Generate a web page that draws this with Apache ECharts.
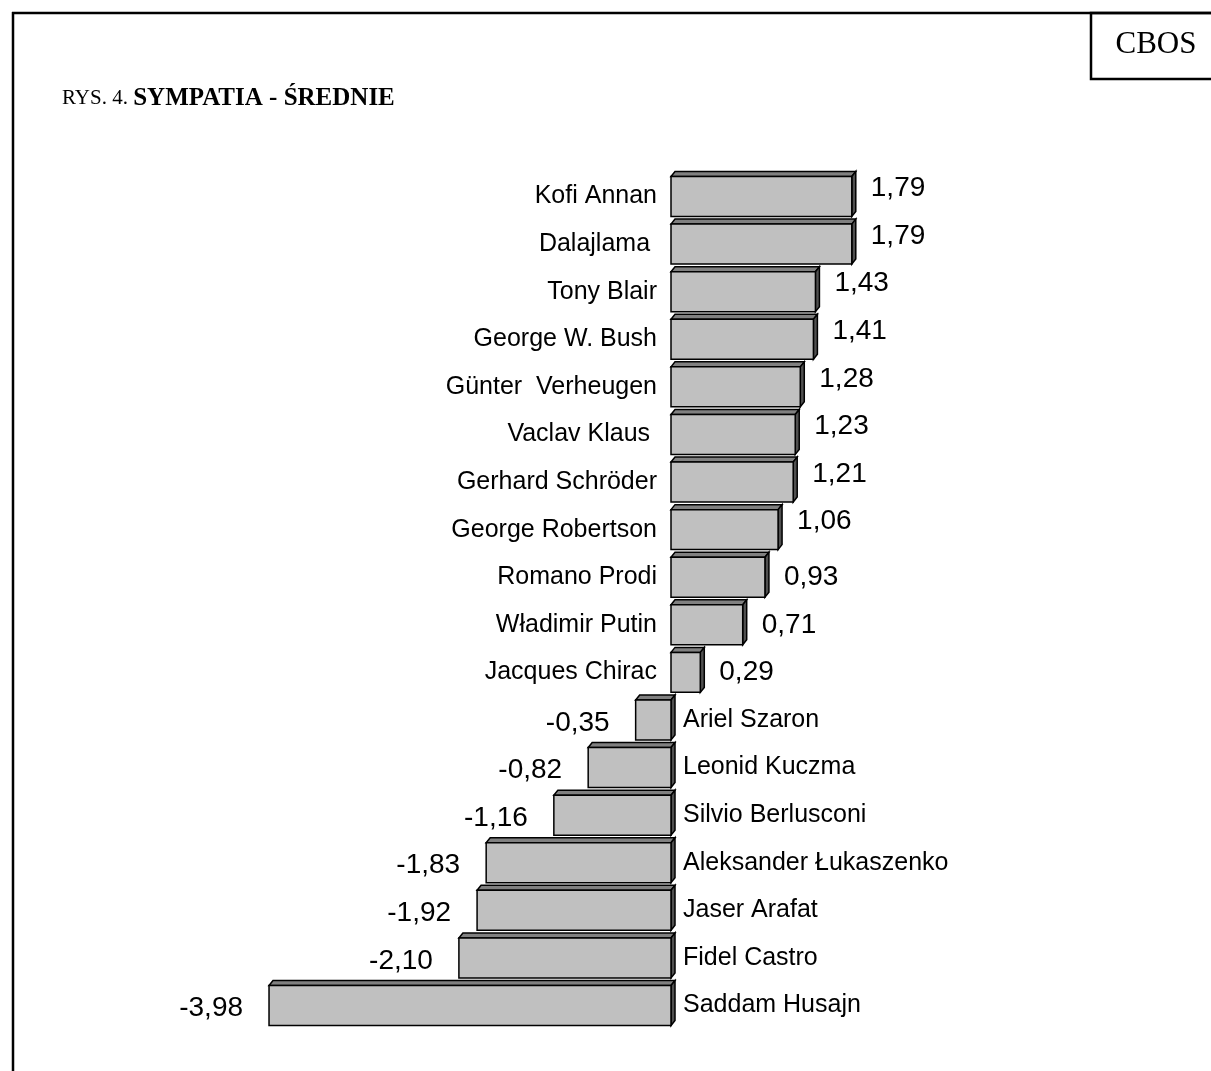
<!DOCTYPE html>
<html>
<head>
<meta charset="utf-8">
<script src="https://cdn.jsdelivr.net/npm/echarts@6/dist/echarts.min.js"></script>
<style>
  html, body { margin: 0; padding: 0; background: #fff; }
  #chart { width: 1211px; height: 1071px; }
</style>
</head>
<body>
<div id="chart"></div>
<script>
// dane z rysunku
const names = [
  'Kofi Annan', 'Dalajlama ', 'Tony Blair', 'George W. Bush', 'Günter  Verheugen',
  'Vaclav Klaus ', 'Gerhard Schröder', 'George Robertson', 'Romano Prodi',
  'Władimir Putin', 'Jacques Chirac', 'Ariel Szaron', 'Leonid Kuczma',
  'Silvio Berlusconi', 'Aleksander Łukaszenko', 'Jaser Arafat', 'Fidel Castro',
  'Saddam Husajn'
];
const values = [
  1.79, 1.79, 1.43, 1.41, 1.28, 1.23, 1.21, 1.06, 0.93, 0.71, 0.29,
  -0.35, -0.82, -1.16, -1.83, -1.92, -2.10, -3.98
];

const chart = echarts.init(document.getElementById('chart'));

const fmt = v => v.toFixed(2).replace('.', ',');

// słupek "3D": przód + góra + bok
function renderBar(params, api) {
  const v = api.value(0);
  const idx = api.value(1);
  const p0 = api.coord([0, idx]);
  const p1 = api.coord([v, idx]);
  const h = api.size([0, 1])[1] * 0.84;
  const top = p0[1] - h / 2, bot = p0[1] + h / 2;
  const l = Math.min(p0[0], p1[0]), r = Math.max(p0[0], p1[0]);
  const dx = 4, dy = 5;
  const pos = v >= 0;
  return {
    type: 'group',
    children: [
      {
        type: 'polygon',
        shape: { points: [[l, top], [l + dx, top - dy], [r + dx, top - dy], [r, top]] },
        style: { fill: '#808080', stroke: '#000', lineWidth: 1.5 }
      },
      {
        type: 'polygon',
        shape: { points: [[r, top], [r + dx, top - dy], [r + dx, bot - dy], [r, bot]] },
        style: { fill: '#505050', stroke: '#000', lineWidth: 1.5 }
      },
      {
        type: 'rect',
        shape: { x: l, y: top, width: r - l, height: h },
        style: { fill: '#c0c0c0', stroke: '#000', lineWidth: 1.5 }
      },
      {
        type: 'text',
        style: {
          text: names[params.dataIndex],
          x: pos ? p0[0] - 14 : p0[0] + 12,
          y: p0[1],
          align: pos ? 'right' : 'left',
          verticalAlign: 'middle',
          font: '25px "Liberation Sans", Arial, sans-serif',
          fill: '#000'
        }
      },
      {
        type: 'text',
        style: {
          text: fmt(v),
          x: pos ? r + 19 : l - 26,
          y: p0[1] + (pos ? (v >= 1 ? -8 : 0) : 3),
          align: pos ? 'left' : 'right',
          verticalAlign: 'middle',
          font: '28px "Liberation Sans", Arial, sans-serif',
          fill: '#000'
        }
      }
    ]
  };
}

const option = {
  animation: false,
  backgroundColor: '#fff',
  grid: { left: 267, width: 606, top: 172.7, height: 856.6 },
  xAxis: { type: 'value', min: -4, max: 2, show: false },
  yAxis: { type: 'category', data: names, inverse: true, show: false },
  series: [{
    type: 'custom',
    renderItem: renderBar,
    data: values.map((v, i) => [v, i])
  }],
  graphic: [
    // ramka
    { type: 'line', shape: { x1: 12, y1: 13, x2: 1211, y2: 13 }, style: { stroke: '#000', lineWidth: 2.5 } },
    { type: 'line', shape: { x1: 13, y1: 12, x2: 13, y2: 1071 }, style: { stroke: '#000', lineWidth: 2.5 } },
    { type: 'rect', shape: { x: 1091, y: 13, width: 140, height: 66 }, style: { fill: 'none', stroke: '#000', lineWidth: 2.5 } },
    {
      type: 'text',
      style: {
        text: 'CBOS', x: 1156, y: 45, align: 'center', verticalAlign: 'middle',
        font: '31px "Liberation Serif", "Times New Roman", serif', fill: '#000'
      }
    },
    {
      type: 'text',
      left: 62, top: 86,
      style: {
        text: 'RYS. 4. {b|SYMPATIA - ŚREDNIE}',
        font: '21px "Liberation Serif", "Times New Roman", serif',
        fill: '#000',
        rich: { b: { fontWeight: 'bold', fontSize: 25, fontFamily: '"Liberation Serif", "Times New Roman", serif' } }
      }
    }
  ]
};

chart.setOption(option);
</script>
</body>
</html>
